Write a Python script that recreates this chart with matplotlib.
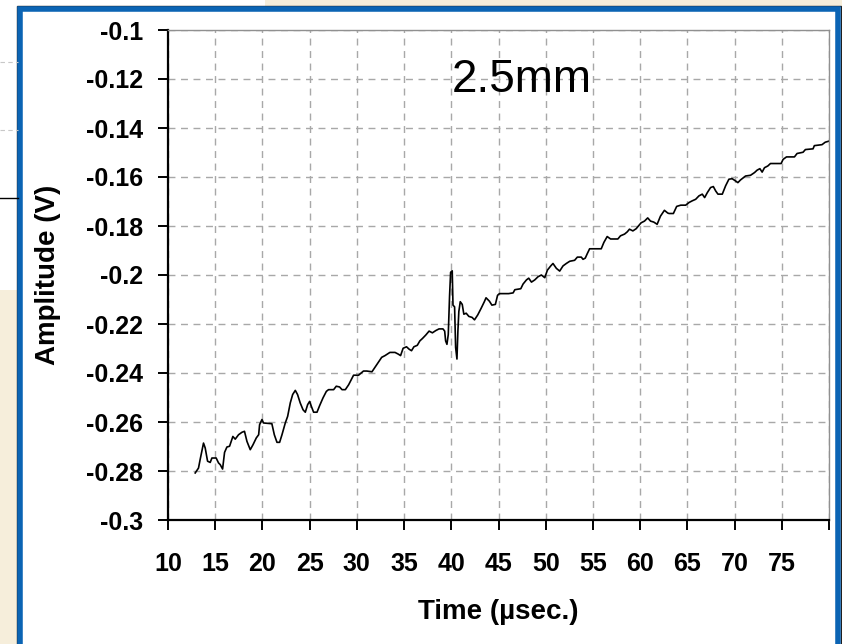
import matplotlib
matplotlib.use("Agg")
import matplotlib.pyplot as plt
from matplotlib.patches import Rectangle
from matplotlib.lines import Line2D

plt.rcParams['font.family'] = ['Liberation Sans', 'DejaVu Sans']

# Oscilloscope trace for the 2.5mm sample: time in microseconds, amplitude in volts
time_us = [
    12.88, 13.23, 13.40, 13.76, 13.94, 14.19, 14.47, 14.65, 15.10, 15.35,
    15.53, 15.78, 15.99, 16.24, 16.52, 16.87, 17.12, 17.47, 17.83, 18.10,
    18.36, 18.71, 19.00, 19.35, 19.60, 19.70, 19.95, 20.12, 21.00, 21.26,
    21.54, 21.82, 22.07, 22.42, 22.67, 22.95, 23.20, 23.48, 23.72, 24.00,
    24.30, 24.54, 24.79, 25.00, 25.18, 25.42, 25.78, 26.06, 26.41, 26.77,
    27.00, 27.54, 27.82, 28.17, 28.43, 28.78, 29.13, 29.65, 30.18, 30.70,
    31.05, 31.60, 31.93, 32.28, 32.63, 32.98, 33.50, 34.04, 34.39, 34.63,
    34.90, 35.26, 35.54, 35.79, 36.04, 36.40, 36.67, 36.95, 37.30, 37.65,
    38.00, 38.35, 38.70, 39.12, 39.30, 39.40, 39.54, 39.68, 39.82, 39.93,
    40.10, 40.18, 40.35, 40.46, 40.60, 40.70, 40.80, 40.95, 41.16, 41.33,
    41.58, 41.86, 42.20, 42.46, 42.80, 43.16, 43.50, 43.68, 44.04, 44.30,
    44.67, 44.90, 45.10, 46.07, 46.55, 46.73, 47.36, 47.60, 47.96, 48.20,
    48.49, 48.84, 49.19, 49.54, 49.90, 50.18, 50.53, 50.77, 51.13, 51.48,
    51.83, 52.18, 52.54, 53.06, 53.35, 53.77, 53.95, 54.19, 54.40, 54.65,
    55.88, 56.16, 56.51, 56.87, 57.64, 57.92, 58.35, 58.63, 58.87, 59.23,
    59.58, 59.82, 60.10, 60.46, 60.80, 61.10, 61.44, 61.80, 62.15, 62.57,
    62.92, 63.06, 63.52, 63.87, 64.30, 64.82, 65.18, 65.53, 65.88, 66.23,
    66.58, 66.83, 67.11, 67.46, 67.75, 68.00, 68.24, 68.70, 69.05, 69.40,
    69.75, 70.10, 70.35, 70.63, 71.16, 71.69, 72.11, 72.39, 72.68, 72.92,
    73.17, 73.52, 73.80, 74.93, 75.14, 75.50, 76.34, 76.62, 77.25, 77.50,
    78.31, 78.45, 79.26, 79.60, 79.96,
]
amplitude_v = [
    -0.2808, -0.2788, -0.2754, -0.2686, -0.2706, -0.2760, -0.2765, -0.2747, -0.2747, -0.2767,
    -0.2774, -0.2792, -0.2724, -0.2702, -0.2699, -0.2659, -0.2670, -0.2652, -0.2642, -0.2638,
    -0.2679, -0.2713, -0.2693, -0.2665, -0.2652, -0.2611, -0.2590, -0.2604, -0.2607, -0.2652,
    -0.2683, -0.2683, -0.2652, -0.2604, -0.2577, -0.2522, -0.2488, -0.2471, -0.2488, -0.2522,
    -0.2550, -0.2560, -0.2529, -0.2516, -0.2536, -0.2560, -0.2560, -0.2533, -0.2502, -0.2475,
    -0.2468, -0.2468, -0.2454, -0.2457, -0.2468, -0.2468, -0.2448, -0.2409, -0.2409, -0.2392,
    -0.2392, -0.2395, -0.2376, -0.2356, -0.2336, -0.2329, -0.2316, -0.2316, -0.2323, -0.2329,
    -0.2299, -0.2293, -0.2303, -0.2309, -0.2293, -0.2287, -0.2269, -0.2259, -0.2245, -0.2229,
    -0.2236, -0.2227, -0.2220, -0.2220, -0.2229, -0.2269, -0.2283, -0.2243, -0.2083, -0.1989,
    -0.1983, -0.2123, -0.2130, -0.2296, -0.2343, -0.2229, -0.2149, -0.2109, -0.2120, -0.2160,
    -0.2156, -0.2169, -0.2173, -0.2183, -0.2163, -0.2136, -0.2109, -0.2093, -0.2107, -0.2123,
    -0.2120, -0.2083, -0.2076, -0.2076, -0.2073, -0.2060, -0.2056, -0.2037, -0.2020, -0.2013,
    -0.2029, -0.2020, -0.2007, -0.2000, -0.2011, -0.1980, -0.1963, -0.1953, -0.1973, -0.1984,
    -0.1963, -0.1953, -0.1944, -0.1940, -0.1927, -0.1927, -0.1936, -0.1931, -0.1913, -0.1893,
    -0.1893, -0.1867, -0.1843, -0.1853, -0.1853, -0.1840, -0.1833, -0.1824, -0.1813, -0.1820,
    -0.1811, -0.1800, -0.1787, -0.1780, -0.1767, -0.1780, -0.1784, -0.1793, -0.1760, -0.1736,
    -0.1747, -0.1749, -0.1749, -0.1720, -0.1715, -0.1715, -0.1704, -0.1697, -0.1691, -0.1677,
    -0.1670, -0.1684, -0.1664, -0.1643, -0.1639, -0.1657, -0.1670, -0.1670, -0.1636, -0.1609,
    -0.1607, -0.1616, -0.1623, -0.1612, -0.1596, -0.1593, -0.1582, -0.1572, -0.1566, -0.1580,
    -0.1562, -0.1555, -0.1545, -0.1545, -0.1528, -0.1518, -0.1518, -0.1504, -0.1499, -0.1488,
    -0.1485, -0.1472, -0.1468, -0.1458, -0.1454,
]

x_ticks = [10, 15, 20, 25, 30, 35, 40, 45, 50, 55, 60, 65, 70, 75, 80]
x_tick_labels = ['10', '15', '20', '25', '30', '35', '40', '45', '50', '55',
                 '60', '65', '70', '75', '']
y_ticks = [-0.3, -0.28, -0.26, -0.24, -0.22, -0.2, -0.18, -0.16, -0.14, -0.12, -0.1]
y_tick_labels = ['-0.3', '-0.28', '-0.26', '-0.24', '-0.22', '-0.2',
                 '-0.18', '-0.16', '-0.14', '-0.12', '-0.1']

W, H = 842, 644
fig = plt.figure(figsize=(W / 100, H / 100), dpi=100)
fig.patch.set_facecolor('white')


def box(x0, y0, x1, y1, **kw):
    # rectangle given in pixel coordinates measured from the top-left corner
    fig.patches.append(Rectangle((x0 / W, 1 - y1 / H), (x1 - x0) / W, (y1 - y0) / H,
                                 transform=fig.transFigure, figure=fig, zorder=-2, **kw))


def hline(x0, x1, y, **kw):
    fig.lines.append(Line2D([x0 / W, x1 / W], [1 - y / H, 1 - y / H],
                            transform=fig.transFigure, figure=fig, zorder=-1, **kw))


beige = '#f6eedb'
# slide background around the chart window
box(0, 290, 20, H, facecolor=beige, edgecolor='none')
box(265, 0, W, 8, facecolor=beige, edgecolor='none')
box(836, 0, W, H, facecolor=beige, edgecolor='none')
hline(0, 18, 198, color='black', lw=1.0)
hline(0, 18, 62, color='#c8c8c8', lw=0.8, ls=(0, (4, 3)))
hline(0, 18, 130, color='#c8c8c8', lw=0.8, ls=(0, (4, 3)))
# chart window: dark outline with blue border
box(17, 6, 841, H + 10, facecolor='white', edgecolor='#202020', lw=1.0)
box(20, 9, 838, H + 10, facecolor='none', edgecolor='#0b64b4', lw=4.0)

ax = fig.add_axes([168 / W, 1 - 520 / H, (829 - 168) / W, (520 - 30) / H])
ax.set_facecolor('white')
ax.plot(time_us, amplitude_v, color='black', lw=1.2)

ax.set_xlim(10, 80)
ax.set_ylim(-0.3, -0.1)
ax.set_xticks(x_ticks)
ax.set_xticklabels(x_tick_labels)
ax.set_yticks(y_ticks)
ax.set_yticklabels(y_tick_labels)
ax.grid(True, color='#a8a8a8', ls=(0, (5, 4)), lw=1.0)
ax.set_axisbelow(True)

for side in ['top', 'right']:
    ax.spines[side].set_color('#909090')
    ax.spines[side].set_linewidth(1.0)
for side in ['left', 'bottom']:
    ax.spines[side].set_color('black')
    ax.spines[side].set_linewidth(1.6)

ax.tick_params(axis='both', direction='out', length=7, width=1.4, color='black')
ax.tick_params(axis='x', pad=16)
ax.tick_params(axis='y', pad=11)
for lab in ax.get_xticklabels() + ax.get_yticklabels():
    lab.set_fontsize(18)
    lab.set_fontweight('bold')

ax.set_xlabel('Time (µsec.)', fontsize=20, fontweight='bold')
ax.set_ylabel('Amplitude (V)', fontsize=20, fontweight='bold')
ax.xaxis.set_label_coords((498 - 168) / 661, (520 - 612) / 490)
ax.xaxis.label.set_va('center')
ax.yaxis.set_label_coords((48 - 168) / 661, (520 - 275) / 490)
ax.yaxis.label.set_va('center')
ax.text(0.535, (520 - 92) / 490, '2.5mm', transform=ax.transAxes, fontsize=33,
        ha='center', va='baseline')

fig.savefig('out.png', dpi=100)
